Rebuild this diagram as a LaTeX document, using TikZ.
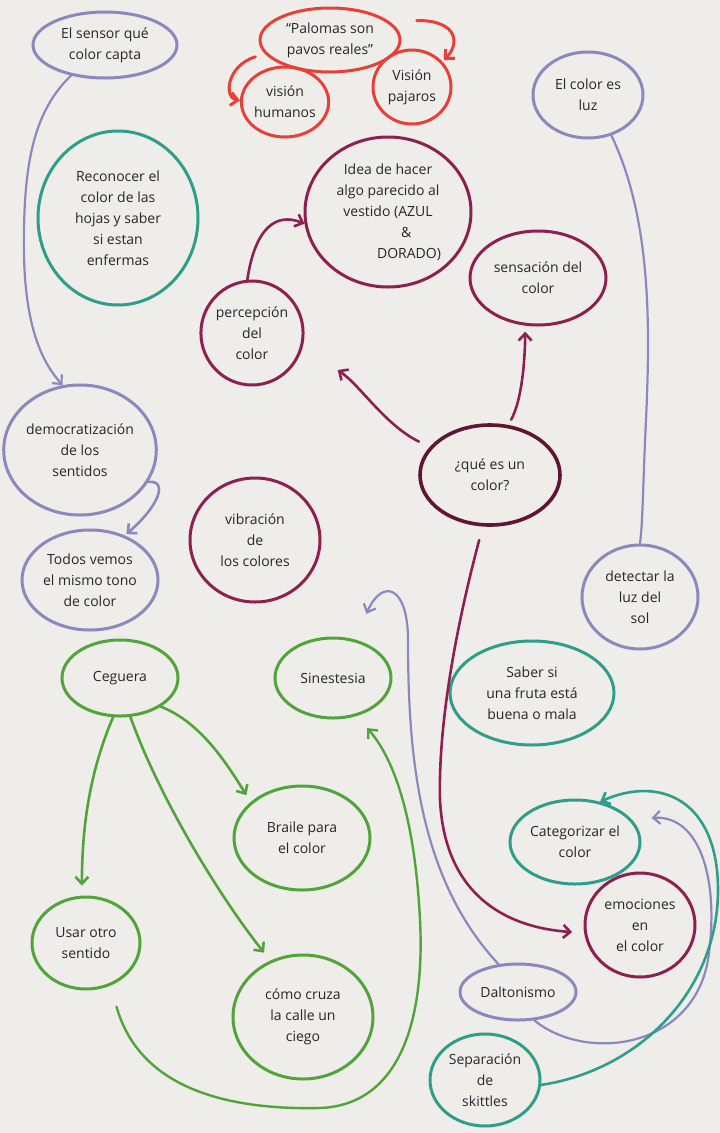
\documentclass[tikz,border=0pt]{standalone}
\usepackage{fontspec}
\setmainfont{Open Sans}
\usetikzlibrary{shapes.geometric,arrows.meta}
\definecolor{paper}{RGB}{238,237,233}
\definecolor{lav}{RGB}{140,136,190}
\definecolor{tealm}{RGB}{46,158,138}
\definecolor{wine}{RGB}{142,32,80}
\definecolor{darkwine}{RGB}{96,22,48}
\definecolor{redm}{RGB}{232,64,56}
\definecolor{grn}{RGB}{80,164,58}
\definecolor{ink}{RGB}{40,38,40}
\begin{document}
\begin{tikzpicture}[x=1pt,y=-1pt,
  bub/.style={ellipse, draw, line width=3pt, inner sep=0pt, align=center, text=ink,
              font=\fontsize{14}{21}\selectfont},
  sz/.style 2 args={minimum width=#1pt, minimum height=#2pt},
  conn/.style={line width=2.4pt, line cap=round},
  arr/.style={conn, -{Straight Barb[length=7pt,width=13pt]}}]
\fill[paper] (0,0) rectangle (720,1133);
\useasboundingbox (0,0) rectangle (720,1133);

% nodes
\node[bub, draw=lav, sz={144}{66}] (sensor) at (105,45) {El sensor qué\\color capta};
\node[bub, draw=tealm, sz={160}{174}] (hojas) at (118,218) {Reconocer el\\color de las\\hojas y saber\\si estan\\enfermas};
\node[bub, draw=redm, sz={140}{64}] (palomas) at (330,40) {“Palomas son\\pavos reales”};
\node[bub, draw=redm, sz={84}{70}] (vhum) at (285,102) {visión\\humanos};
\node[bub, draw=redm, sz={78}{74}] (vpaj) at (412,87) {Visión\\pajaros};
\node[bub, draw=wine, sz={166}{150}] (idea) at (388,212) {Idea de hacer\\algo parecido al\\vestido (AZUL\\\hspace*{2.6em}\&\\\hspace*{3em}DORADO)};
\node[bub, draw=wine, sz={96}{104}] (perc) at (252,333) {percepción\\del\\color};
\node[bub, draw=wine, sz={136}{94}] (sens) at (538,278) {sensación del\\color};
\node[bub, draw=lav, sz={110}{86}] (luz) at (588,95) {El color es\\luz};
\node[bub, draw=darkwine, line width=3.6pt, sz={140}{100}] (que) at (490,475) {¿qué es un\\color?};
\node[bub, draw=lav, sz={144}{130}] (demo) at (80,450) {democratización\\de los\\sentidos};
\node[bub, draw=lav, sz={136}{100}] (todos) at (90,580) {Todos vemos\\el mismo tono\\de color};
\node[bub, draw=wine, sz={130}{124}] (vib) at (255,540) {vibración\\de\\los colores};
\node[bub, draw=lav, sz={116}{104}] (detect) at (640,597) {detectar la\\luz del\\sol};
\node[bub, draw=grn, sz={116}{76}] (ceg) at (120,678) {Ceguera};
\node[bub, draw=grn, sz={116}{80}] (sin) at (333,678) {Sinestesia};
\node[bub, draw=tealm, sz={164}{104}] (fruta) at (532,693) {Saber si\\una fruta está\\buena o mala};
\node[bub, draw=grn, sz={136}{104}] (braile) at (302,838) {Braile para\\el color};
\node[bub, draw=grn, sz={108}{92}] (usar) at (86,943) {Usar otro\\sentido};
\node[bub, draw=tealm, sz={130}{84}] (cat) at (575,842) {Categorizar el\\color};
\node[bub, draw=wine, sz={110}{104}] (emo) at (640,925) {emociones\\en\\el color};
\node[bub, draw=grn, sz={140}{124}] (cruza) at (303,1017) {cómo cruza\\la calle un\\ciego};
\node[bub, draw=lav, sz={116}{56}] (dalt) at (518,992) {Daltonismo};
\node[bub, draw=tealm, sz={110}{92}] (skit) at (485,1080) {Separación\\de\\skittles};

% red
\draw[arr, redm, line width=3pt, shorten <=10pt] (palomas.192) .. controls (226,66) and (224,98) .. (vhum.178);
\draw[arr, redm, line width=3pt, shorten <=28pt, shorten >=2pt] (palomas.18) .. controls (458,20) and (460,44) .. (vpaj.40);

% lavender
\draw[arr, lav, line width=2.2pt] (sensor.222) .. controls (35,110) and (25,160) .. (24,230) .. controls (22,320) and (40,360) .. (demo.105);
\draw[arr, lav, line width=2.6pt, shorten >=2pt] (demo.-25) .. controls (168,480) and (160,505) .. (todos.52);
\draw[conn, lav, line width=2.2pt] (luz.-60) .. controls (652,220) and (650,330) .. (646,420) .. controls (643,480) and (643,520) .. (detect.90);
\draw[arr, lav, line width=2.2pt, shorten >=28pt] (dalt.125) .. controls (420,880) and (408,760) .. (408,640) .. controls (408,585) and (382,578) .. (sin.60);
\draw[arr, lav, line width=2.2pt, shorten >=20pt] (dalt.-60) .. controls (585,1062) and (692,1050) .. (708,960) .. controls (720,880) and (700,815) .. (cat.22);

% wine
\draw[arr, wine, line width=2.6pt] (perc.95) .. controls (255,228) and (276,212) .. (idea.188);
\draw[arr, wine, line width=2.6pt, shorten <=12pt, shorten >=42pt] (que.155) .. controls (385,425) and (360,385) .. (perc.-15);
\draw[arr, wine, line width=2.6pt, shorten <=6pt, shorten >=6pt] (que.70) .. controls (522,400) and (525,360) .. (sens.255);
\draw[arr, wine, line width=2.6pt, shorten <=14pt, shorten >=12pt] (que.262) .. controls (458,620) and (438,720) .. (440,800) .. controls (445,900) and (512,928) .. (emo.188);

% teal
\draw[arr, tealm, line width=2.6pt] (skit.-5) .. controls (640,1070) and (718,990) .. (718,890) .. controls (718,800) and (660,775) .. (cat.58);

% green
\draw[arr, grn, line width=2.6pt, shorten >=10pt] (ceg.-100) .. controls (86,780) and (82,840) .. (usar.95);
\draw[arr, grn, line width=2.6pt, shorten >=8pt] (ceg.-35) .. controls (200,722) and (226,762) .. (braile.145);
\draw[arr, grn, line width=2.6pt, shorten >=10pt] (ceg.-75) .. controls (160,800) and (222,900) .. (cruza.120);
\draw[arr, grn, line width=2.4pt, shorten <=22pt, shorten >=16pt] (usar.-60) .. controls (140,1090) and (230,1110) .. (320,1108) .. controls (400,1105) and (425,1020) .. (420,920) .. controls (415,820) and (395,760) .. (sin.-58);
\end{tikzpicture}
\end{document}
